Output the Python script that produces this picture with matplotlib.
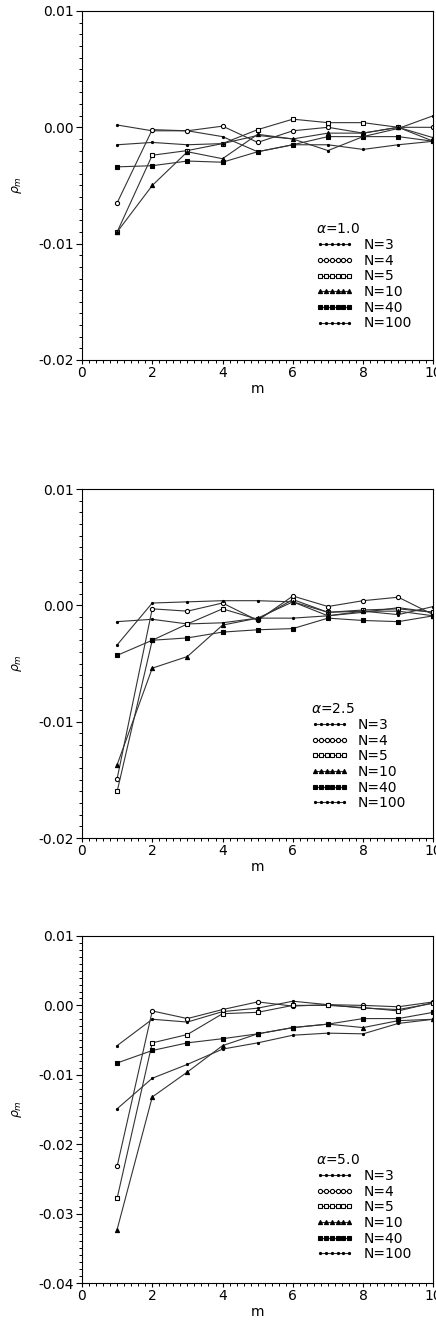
import numpy as np
import matplotlib
matplotlib.use("Agg")
import matplotlib.pyplot as plt
from matplotlib.ticker import MultipleLocator

plt.rcParams['font.family'] = ['DejaVu Sans']
plt.rcParams['font.size'] = 10

m = np.arange(1, 11)
labels = ["N=3", "N=4", "N=5", "N=10", "N=40", "N=100"]
alphas = ["1.0", "2.5", "5.0"]

# alpha = 1.0
a1_n3 = [0.0002, -0.0003, -0.0003, -0.0008, -0.0021, -0.0015, -0.0015, -0.0019, -0.0015, -0.0012]
a1_n4 = [-0.0065, -0.0002, -0.0003, 0.0001, -0.0013, -0.0003, 0.0, -0.0005, 0.0, 0.0]
a1_n5 = [-0.0090, -0.0024, -0.0020, -0.0014, -0.0002, 0.0007, 0.0004, 0.0004, 0.0, -0.0012]
a1_n10 = [-0.0090, -0.0050, -0.0021, -0.0027, -0.0006, -0.0010, -0.0005, -0.0005, 0.0, -0.0009]
a1_n40 = [-0.0034, -0.0033, -0.0029, -0.0030, -0.0021, -0.0015, -0.0008, -0.0008, -0.0008, -0.0012]
a1_n100 = [-0.0015, -0.0013, -0.0015, -0.0014, -0.0007, -0.0010, -0.0020, -0.0008, -0.0001, 0.0010]

# alpha = 2.5
a2_n3 = [-0.0014, -0.0012, -0.0016, -0.0015, -0.0011, -0.0011, -0.0009, -0.0006, -0.0002, -0.0006]
a2_n4 = [-0.0149, -0.0003, -0.0005, 0.0002, -0.0013, 0.0008, -0.0001, 0.0004, 0.0007, -0.0008]
a2_n5 = [-0.0160, -0.0030, -0.0016, -0.0003, -0.0012, 0.0005, -0.0006, -0.0004, -0.0003, -0.0006]
a2_n10 = [-0.0137, -0.0054, -0.0044, -0.0017, -0.0011, 0.0003, -0.0009, -0.0005, -0.0005, -0.0009]
a2_n40 = [-0.0043, -0.0030, -0.0028, -0.0023, -0.0021, -0.0020, -0.0011, -0.0013, -0.0014, -0.0009]
a2_n100 = [-0.0034, 0.0002, 0.0003, 0.0004, 0.0004, 0.0003, -0.0006, -0.0005, -0.0008, -0.0001]

# alpha = 5.0
a3_n3 = [-0.0058, -0.0020, -0.0024, -0.0009, -0.0004, 0.0006, 0.0001, -0.0004, -0.0006, 0.0003]
a3_n4 = [-0.0232, -0.0008, -0.0019, -0.0006, 0.0005, -0.0001, 0.0001, 0.0, -0.0002, 0.0005]
a3_n5 = [-0.0278, -0.0054, -0.0042, -0.0012, -0.0010, 0.0, 0.0, -0.0003, -0.0008, 0.0004]
a3_n10 = [-0.0323, -0.0132, -0.0096, -0.0058, -0.0041, -0.0032, -0.0027, -0.0032, -0.0022, -0.0020]
a3_n40 = [-0.0083, -0.0065, -0.0054, -0.0048, -0.0041, -0.0032, -0.0027, -0.0019, -0.0019, -0.0010]
a3_n100 = [-0.0149, -0.0105, -0.0085, -0.0063, -0.0054, -0.0043, -0.0040, -0.0041, -0.0026, -0.0020]

data = [
    [a1_n3, a1_n4, a1_n5, a1_n10, a1_n40, a1_n100],
    [a2_n3, a2_n4, a2_n5, a2_n10, a2_n40, a2_n100],
    [a3_n3, a3_n4, a3_n5, a3_n10, a3_n40, a3_n100],
]
ylims = [(-0.02, 0.01), (-0.02, 0.01), (-0.04, 0.01)]
yticks = [[-0.02, -0.01, 0.0, 0.01], [-0.02, -0.01, 0.0, 0.01],
          [-0.04, -0.03, -0.02, -0.01, 0.0, 0.01]]

# marker styles: (marker, size, facecolor)
styles = [(".", 3.0, "black"), ("o", 3.0, "white"), ("s", 2.8, "white"),
          ("^", 3.0, "black"), ("s", 2.2, "black"), (".", 3.0, "black")]

boxes = [(0.188, 0.7277, 0.806, 0.264),
         (0.188, 0.3661, 0.806, 0.264),
         (0.188, 0.0295, 0.806, 0.2625)]
leg_pos = [(0.65, 0.41), (0.635, 0.405), (0.65, 0.39)]

fig = plt.figure(figsize=(4.36, 13.22), dpi=100)
for k in range(3):
    ax = fig.add_axes(boxes[k])
    for j in range(6):
        mk, ms, fc = styles[j]
        ax.plot(m, data[k][j], color="#333333", lw=0.8, marker=mk, ms=ms,
                mfc=fc, mec="black", mew=0.8, label=labels[j])
    ax.set_xlim(0, 10)
    ax.set_ylim(*ylims[k])
    ax.set_yticks(yticks[k])
    ax.set_yticklabels(["%.2f" % v if v != 0 else "0.00" for v in yticks[k]])
    ax.set_xticks([0, 2, 4, 6, 8, 10])
    ax.xaxis.set_minor_locator(MultipleLocator(0.2))
    ax.yaxis.set_minor_locator(MultipleLocator(0.001))
    ax.tick_params(which="major", direction="out", length=4, width=0.8, pad=2)
    ax.tick_params(which="minor", direction="out", length=2.2, width=0.7)
    ax.tick_params(axis="x", which="major", length=3, pad=1)
    ax.tick_params(top=False, right=False)
    for s in ax.spines.values():
        s.set_linewidth(0.8)
    ax.set_xlabel("m", fontsize=10, labelpad=2)
    ax.set_ylabel(r"$\rho_m$", fontsize=9, labelpad=10)
    leg = ax.legend(loc="upper left", bbox_to_anchor=leg_pos[k], frameon=False,
                    title=r"$\alpha$=" + alphas[k], alignment="left",
                    numpoints=6, handlelength=2.7, handletextpad=0.7,
                    labelspacing=0.12, borderaxespad=0, fontsize=10,
                    title_fontsize=10)

fig.savefig("out.png", dpi=100)
